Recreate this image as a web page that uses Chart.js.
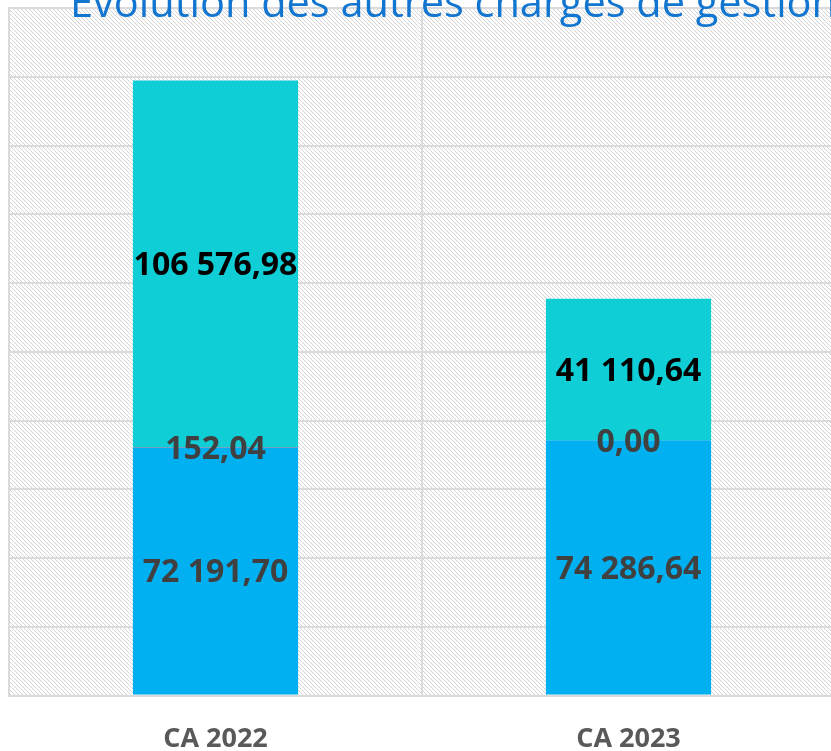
<!DOCTYPE html>
<html>
<head>
<meta charset="utf-8">
<script src="https://cdn.jsdelivr.net/npm/chart.js@4"></script>
<style>
  html, body { margin: 0; padding: 0; overflow: hidden; background: #fff; }
  #wrap { position: relative; width: 840px; height: 784px; }
</style>
</head>
<body>
<div id="wrap"><canvas id="chargesChart"></canvas></div>
<script>
var categories = ['CA 2022', 'CA 2023'];
var seriesNames = ['Charges courantes', 'Charges diverses', 'Autres charges'];
var bottomValues = [72191.70, 74286.64];
var middleValues = [152.04, 0.00];
var topValues = [106576.98, 41110.64];
var seriesColors = ['#00B0F0', '#E8302A', '#0FCED6'];
var labelColors = ['#404040', '#404040', '#000000'];
var titleText = 'Évolution des autres charges de gestion courante';

// format 106576.98 -> "106 576,98"
function fmt(v) {
    var parts = v.toFixed(2).split('.');
    return parts[0].replace(/\B(?=(\d{3})+(?!\d))/g, ' ') + ',' + parts[1];
}

// hachures en fond de la zone de tracé
function makeHatch() {
    var c = document.createElement('canvas');
    c.width = 4; c.height = 4;
    var g = c.getContext('2d');
    g.fillStyle = '#ffffff';
    g.fillRect(0, 0, 4, 4);
    g.fillStyle = '#d3d3d3';
    for (var i = 0; i < 4; i++) g.fillRect(i, i, 1, 1);
    return c;
}

var hatchPlugin = {
    id: 'hatch',
    beforeDraw: function (chart) {
        var a = chart.chartArea, ctx = chart.ctx;
        ctx.save();
        ctx.fillStyle = ctx.createPattern(makeHatch(), 'repeat');
        ctx.fillRect(a.left, a.top, a.right - a.left, a.bottom - a.top);
        ctx.restore();
    }
};

var valueLabels = {
    id: 'valueLabels',
    afterDatasetsDraw: function (chart) {
        var ctx = chart.ctx;
        var size = 32;
        ctx.save();
        ctx.font = 'bold ' + size + 'px "Open Sans"';
        ctx.textAlign = 'center';
        ctx.textBaseline = 'alphabetic';
        chart.data.datasets.forEach(function (ds, di) {
            var meta = chart.getDatasetMeta(di);
            ctx.fillStyle = labelColors[di];
            meta.data.forEach(function (bar, i) {
                var y = (bar.y + bar.base) / 2;
                ctx.fillText(fmt(ds.data[i]), bar.x, y + size * 0.357);
            });
        });
        ctx.restore();
    }
};

var titlePlugin = {
    id: 'cutTitle',
    afterDraw: function (chart) {
        var ctx = chart.ctx;
        ctx.save();
        ctx.font = '41.5px "Open Sans"';
        ctx.fillStyle = '#1275CF';
        ctx.textAlign = 'left';
        ctx.textBaseline = 'alphabetic';
        ctx.fillText(titleText, 70, 17);
        ctx.restore();
    }
};

var ctx = document.getElementById('chargesChart').getContext('2d');
var chargesChart = new Chart(ctx, {
    type: 'bar',
    data: {
        labels: categories,
        datasets: [
            { label: seriesNames[0], data: bottomValues, backgroundColor: seriesColors[0] },
            { label: seriesNames[1], data: middleValues, backgroundColor: seriesColors[1] },
            { label: seriesNames[2], data: topValues, backgroundColor: seriesColors[2] }
        ]
    },
    options: {
        responsive: true,
        maintainAspectRatio: false,
        animation: false,
        layout: { padding: { left: 9, right: 5, top: 8, bottom: 0 } },
        datasets: { bar: { categoryPercentage: 1, barPercentage: 0.4 } },
        plugins: {
            legend: { display: false },
            tooltip: { enabled: false }
        },
        scales: {
            x: {
                stacked: true,
                grid: { color: '#dadada', lineWidth: 2, drawTicks: false },
                border: { color: '#dadada', width: 2 },
                ticks: {
                    color: '#595959',
                    padding: 28,
                    font: { family: 'Open Sans', size: 27, weight: 'bold' }
                }
            },
            y: {
                stacked: true,
                min: 0,
                max: 200000,
                ticks: { display: false, stepSize: 20000 },
                grid: { color: '#dadada', lineWidth: 2, drawTicks: false },
                border: { color: '#dadada', width: 2 }
            }
        }
    },
    plugins: [hatchPlugin, valueLabels, titlePlugin]
});
</script>
</body>
</html>
